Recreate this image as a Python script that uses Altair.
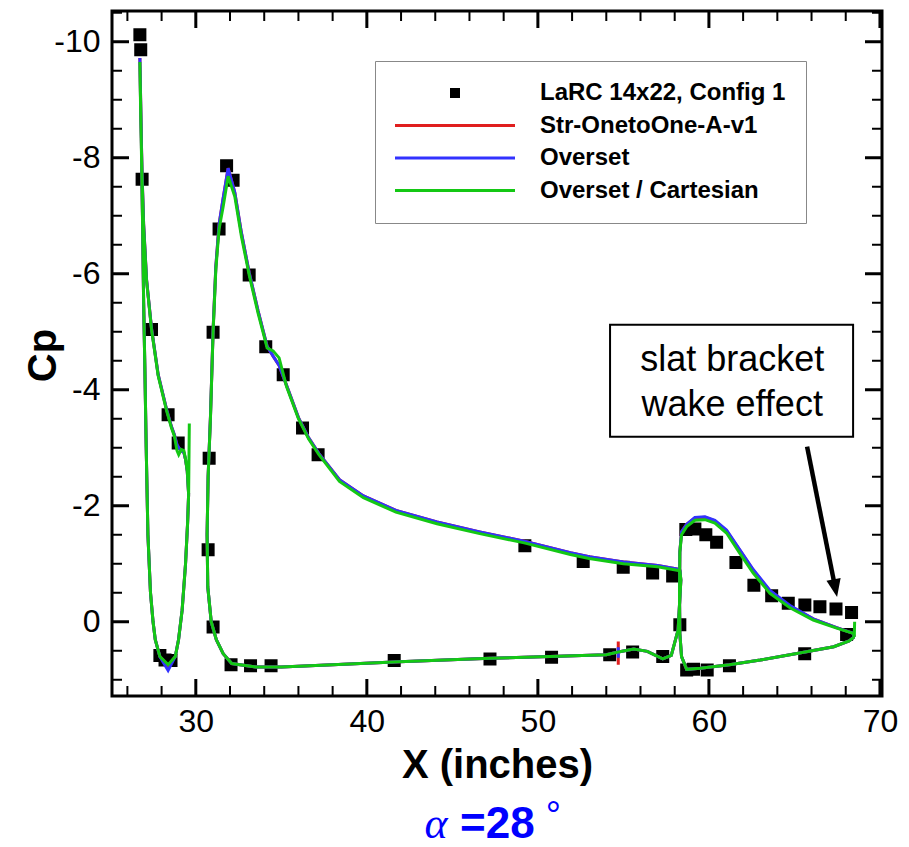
import altair as alt
import pandas as pd

# ---------------- series / legend ----------------
SERIES = ["LaRC 14x22, Config 1", "Str-OnetoOne-A-v1", "Overset", "Overset / Cartesian"]
COLORS = ["#000000", "#e01e1e", "#3232ff", "#14c814"]
LINE_SYMBOL = "M-12,0H12"
SQUARE_SYMBOL = "M-0.7,-0.7H0.7V0.7H-0.7Z"
SHAPES = [SQUARE_SYMBOL, LINE_SYMBOL, LINE_SYMBOL, LINE_SYMBOL]

# ---------------- experiment (LaRC 14x22) ----------------
EXP_X = [26.73, 26.78, 26.86, 27.41, 28.38, 28.97, 27.9, 28.2, 28.55,
         31.01, 31.36, 31.80, 32.18, 33.12, 34.09, 35.11, 36.24, 37.15, 49.24,
         52.65, 54.99, 56.71, 57.88, 30.78, 30.72, 31.01, 32.06, 33.2, 34.4,
         41.6, 47.2, 50.8, 54.2, 55.54, 57.3, 58.3,
         58.65, 59.18, 59.82, 60.45, 61.58, 62.63, 63.67, 64.64, 65.61, 66.49,
         67.43, 68.34, 68.05, 58.7, 59.1, 59.9, 61.2, 65.6]
EXP_Y = [-10.12, -9.86, -7.63, -5.04, -3.57, -3.08, 0.58, 0.66, 0.67,
         -4.99, -6.77, -7.86, -7.61, -5.98, -4.74, -4.26, -3.34, -2.88, -1.31,
         -1.04, -0.94, -0.84, -0.79, -2.82, -1.24, 0.09, 0.74, 0.76, 0.76,
         0.67, 0.64, 0.61, 0.57, 0.52, 0.60, 0.05,
         -1.59, -1.60, -1.50, -1.37, -1.02, -0.63, -0.45, -0.32, -0.29, -0.26,
         -0.22, -0.16, 0.22, 0.83, 0.82, 0.83, 0.76, 0.55]

# ---------------- CFD curves ----------------
SLAT_X = [29.62, 29.58, 29.5, 29.4, 29.3, 29.15, 29.0, 28.9, 28.75, 28.58, 28.29, 27.8,
          27.41, 27.12, 26.95, 26.86, 26.78, 26.73, 26.8, 26.88, 26.95, 27.02, 27.1,
          27.2, 27.35, 27.5, 27.63, 27.9, 28.38, 28.8, 28.99, 29.2, 29.4, 29.52, 29.58]
SLAT_Y_CART = [-3.42, -2.2, -2.6, -2.8, -2.95, -2.97, -2.88, -2.95, -3.2, -3.34, -3.64, -4.24,
               -5.04, -5.88, -6.8, -7.63, -8.7, -9.65, -8.5, -7.0, -5.5, -4.4, -3.0,
               -1.5, -0.5, 0.0, 0.31, 0.6, 0.74, 0.6, 0.31, -0.2, -1.0, -1.7, -2.2]
SLAT_Y_STR = [-2.2, -2.2, -2.6, -2.8, -2.92, -2.95, -3.0, -3.05, -3.22, -3.36, -3.66, -4.26,
              -5.06, -5.9, -6.85, -7.7, -8.8, -9.72, -8.6, -7.05, -5.5, -4.4, -3.0,
              -1.5, -0.5, 0.0, 0.31, 0.6, 0.76, 0.6, 0.31, -0.2, -1.0, -1.7, -2.2]
SLAT_Y_OVS = [-2.2, -2.2, -2.6, -2.8, -2.92, -2.95, -3.0, -3.05, -3.22, -3.36, -3.66, -4.26,
              -5.06, -5.9, -6.85, -7.7, -8.8, -9.72, -8.6, -7.05, -5.5, -4.4, -3.0,
              -1.5, -0.5, 0.0, 0.31, 0.6, 0.84, 0.6, 0.31, -0.2, -1.0, -1.7, -2.2]

MAIN_X = [58.3, 57.0, 55.0, 53.0, 51.9, 49.2, 46.6, 44.1, 41.7, 39.8, 38.4, 37.2, 36.6,
          36.0, 35.3, 34.87, 34.52, 34.17, 33.64, 33.12, 32.67, 32.28, 31.89, 31.6,
          31.36, 31.17, 31.01, 30.86, 30.72, 30.66, 30.7, 30.9, 31.2, 31.6, 32.1, 33.5,
          35.0, 38.0, 41.9, 47.2, 50.7, 54.0, 54.7, 54.7, 54.7, 54.7, 55.6, 56.4, 57.3,
          57.8, 58.2, 58.36, 58.3]
MAIN_Y_CART = [-0.88, -0.95, -1.0, -1.09, -1.16, -1.36, -1.52, -1.69, -1.89, -2.14, -2.42,
               -2.88, -3.15, -3.5, -4.06, -4.55, -4.67, -4.72, -5.32, -5.98, -6.64, -7.33,
               -7.68, -7.16, -6.77, -6.07, -4.99, -3.54, -2.5, -1.5, -0.6, 0.0, 0.31, 0.55,
               0.72, 0.78, 0.78, 0.74, 0.69, 0.63, 0.6, 0.57, 0.52, 0.52, 0.52, 0.52, 0.47,
               0.51, 0.64, 0.58, 0.14, -0.72, -0.88]
MAIN_Y_STR = [-0.9, -0.97, -1.03, -1.12, -1.19, -1.39, -1.55, -1.72, -1.92, -2.17, -2.45,
              -2.9, -3.17, -3.52, -4.08, -4.42, -4.58, -4.75, -5.36, -6.02, -6.7, -7.4,
              -7.82, -7.3, -6.85, -6.12, -5.02, -3.56, -2.5, -1.5, -0.6, 0.0, 0.31, 0.55,
              0.72, 0.78, 0.78, 0.74, 0.69, 0.63, 0.6, 0.57, 0.52, 0.34, 0.74, 0.52, 0.47,
              0.51, 0.64, 0.58, 0.14, -0.72, -0.9]
MAIN_Y_OVS = [-0.9, -0.97, -1.03, -1.12, -1.19, -1.39, -1.55, -1.72, -1.92, -2.17, -2.45,
              -2.9, -3.17, -3.52, -4.08, -4.42, -4.58, -4.75, -5.36, -6.02, -6.7, -7.4,
              -7.82, -7.3, -6.85, -6.12, -5.02, -3.56, -2.5, -1.5, -0.6, 0.0, 0.31, 0.55,
              0.72, 0.78, 0.78, 0.74, 0.69, 0.63, 0.6, 0.57, 0.52, 0.44, 0.62, 0.52, 0.47,
              0.51, 0.64, 0.58, 0.14, -0.72, -0.9]

FLAP_X = [68.52, 68.5, 68.44, 67.47, 66.1, 64.74, 63.57, 62.59, 61.81, 61.03, 60.35, 59.77,
          59.18, 58.7, 58.4, 58.3, 58.28, 58.3, 58.4, 58.7, 59.5, 61.2, 63.0, 65.3, 67.3,
          68.2, 68.5]
FLAP_Y_CART = [0.0, 0.26, 0.2, 0.11, -0.03, -0.24, -0.49, -0.84, -1.18, -1.53, -1.7, -1.76,
               -1.75, -1.64, -1.5, -1.2, -0.5, 0.2, 0.6, 0.82, 0.8, 0.74, 0.66, 0.54, 0.43,
               0.33, 0.26]
FLAP_Y_STR = [0.26, 0.26, 0.2, 0.1, -0.05, -0.27, -0.53, -0.89, -1.23, -1.57, -1.74, -1.8,
              -1.79, -1.68, -1.55, -1.2, -0.5, 0.2, 0.6, 0.82, 0.8, 0.74, 0.66, 0.54, 0.43,
              0.33, 0.26]
FLAP_Y_OVS = [0.26, 0.26, 0.2, 0.1, -0.05, -0.28, -0.54, -0.9, -1.24, -1.58, -1.75, -1.81,
              -1.8, -1.68, -1.55, -1.2, -0.5, 0.2, 0.6, 0.82, 0.8, 0.74, 0.66, 0.54, 0.43,
              0.33, 0.26]

# ---------------- axes ----------------
X_DOMAIN = [25.1, 70.12]
Y_DOMAIN = [-10.53, 1.28]
X_MAJOR = [30, 40, 50, 60, 70]
X_MINOR = [26, 28, 32, 34, 36, 38, 42, 44, 46, 48, 52, 54, 56, 58, 62, 64, 66, 68]
Y_MAJOR = [-10, -8, -6, -4, -2, 0]
Y_MINOR = [-10.5, -9.5, -9, -8.5, -7.5, -7, -6.5, -5.5, -5, -4.5, -3.5, -3, -2.5,
           -1.5, -1, -0.5, 0.5, 1.0]

# ---------------- annotations ----------------
NOTE_LINES = ["slat bracket", "wake effect"]
NOTE_X = [61.36, 61.36]
NOTE_Y = [-4.52, -3.74]
NOTE_BOX = {"x": [54.22], "x2": [68.43], "y": [-5.12], "y2": [-3.19]}
ARROW = {"x": [65.74], "x2": [67.39], "y": [-3.02], "y2": [-0.58]}
ARROW_HEAD = {"x": [67.39], "y": [-0.58]}
ALPHA_SYM = {"t": ["α"], "x": [44.05], "y": [3.72]}
ALPHA_VAL = {"t": ["=28"], "x": [45.45], "y": [3.72]}
ALPHA_DEG = {"t": ["°"], "x": [50.9], "y": [3.55]}

PLOT_W, PLOT_H = 770, 685
FONT = "Liberation Sans"

# ---------------- tables ----------------
exp_df = pd.DataFrame({"x": EXP_X, "y": EXP_Y, "series": SERIES[0]})

rows = []
curves = [
    (SERIES[1], "slat", SLAT_X, SLAT_Y_STR), (SERIES[1], "main", MAIN_X, MAIN_Y_STR),
    (SERIES[1], "flap", FLAP_X, FLAP_Y_STR),
    (SERIES[2], "slat", SLAT_X, SLAT_Y_OVS), (SERIES[2], "main", MAIN_X, MAIN_Y_OVS),
    (SERIES[2], "flap", FLAP_X, FLAP_Y_OVS),
    (SERIES[3], "slat", SLAT_X, SLAT_Y_CART), (SERIES[3], "main", MAIN_X, MAIN_Y_CART),
    (SERIES[3], "flap", FLAP_X, FLAP_Y_CART),
]
for s, el, xs_, ys_ in curves:
    for i, (a, b) in enumerate(zip(xs_, ys_)):
        rows.append({"series": s, "element": el, "idx": i, "x": a, "y": b})
curve_df = pd.DataFrame(rows)

px_per_x = PLOT_W / (X_DOMAIN[1] - X_DOMAIN[0])
px_per_y = PLOT_H / (Y_DOMAIN[1] - Y_DOMAIN[0])


def tick_table(xv, yv, length_px):
    dx, dy = length_px / px_per_x, length_px / px_per_y
    r = []
    for v in xv:
        r.append({"x": v, "x2": v, "y": Y_DOMAIN[1], "y2": Y_DOMAIN[1] - dy})
        r.append({"x": v, "x2": v, "y": Y_DOMAIN[0], "y2": Y_DOMAIN[0] + dy})
    for v in yv:
        r.append({"x": X_DOMAIN[0], "x2": X_DOMAIN[0] + dx, "y": v, "y2": v})
        r.append({"x": X_DOMAIN[1], "x2": X_DOMAIN[1] - dx, "y": v, "y2": v})
    return pd.DataFrame(r)


major_df = tick_table(X_MAJOR, Y_MAJOR, 17)
minor_df = tick_table(X_MINOR, Y_MINOR, 10)

# ---------------- scales / guides ----------------
xs = alt.Scale(domain=X_DOMAIN, nice=False, zero=False)
ys = alt.Scale(domain=Y_DOMAIN, nice=False, zero=False, reverse=True)
color_scale = alt.Scale(domain=SERIES, range=COLORS)
shape_scale = alt.Scale(domain=SERIES, range=SHAPES)

legend = alt.Legend(
    title=None, orient="none", legendX=263, legendY=50, padding=20, rowPadding=8.5,
    labelFont=FONT, labelFontWeight="bold", labelFontSize=24, labelColor="black",
    labelLimit=500, symbolSize=100, symbolStrokeWidth=3, symbolOffset=48, labelOffset=73,
    strokeColor="#888888", fillColor="white",
)

x_axis = alt.Axis(
    values=X_MAJOR, title="X (inches)", titleFont=FONT, titleFontSize=40,
    titleFontWeight="bold", titleColor="black", titleX=385, titleY=81,
    titleAlign="center", titleBaseline="alphabetic",
    labelFont=FONT, labelFontSize=32, labelColor="black", labelPadding=10,
    labelFlush=False, labelOverlap=False, ticks=False, tickSize=0, domain=False,
    grid=False, format="d",
)
y_axis = alt.Axis(
    values=Y_MAJOR, title="Cp", titleFont=FONT, titleFontSize=40, titleFontWeight="bold",
    titleColor="black", titleAngle=270, titleX=-57, titleY=344, titleAlign="center",
    titleBaseline="alphabetic",
    labelFont=FONT, labelFontSize=32, labelColor="black", labelPadding=12,
    labelOverlap=False, ticks=False, tickSize=0, domain=False, grid=False,
    labelExpr="datum.value < 0 ? '-' + format(-datum.value, 'd') : format(datum.value, 'd')",
)

XE = alt.X("x:Q", scale=xs, axis=x_axis)
YE = alt.Y("y:Q", scale=ys, axis=y_axis)

points = alt.Chart(exp_df).mark_point(filled=False, fill="black", size=247, opacity=1).encode(
    x=XE, y=YE,
    color=alt.Color("series:N", scale=color_scale, legend=legend),
    shape=alt.Shape("series:N", scale=shape_scale, legend=legend),
)


def line_layer(name):
    return alt.Chart(curve_df).transform_filter(alt.datum.series == name).mark_line(
        strokeWidth=3
    ).encode(
        x=XE, y=YE,
        color=alt.Color("series:N", scale=color_scale, legend=None),
        detail="element:N", order="idx:Q",
    )


def tick_layer(df, w):
    return alt.Chart(df).mark_rule(color="black", strokeWidth=w).encode(
        x=XE, x2="x2:Q", y=YE, y2="y2:Q")


box = alt.Chart(pd.DataFrame(NOTE_BOX)).mark_rect(
    fill="white", stroke="black", strokeWidth=2).encode(x=XE, x2="x2:Q", y=YE, y2="y2:Q")
note = alt.Chart(pd.DataFrame({"t": NOTE_LINES, "x": NOTE_X, "y": NOTE_Y})).mark_text(
    font=FONT, fontSize=36, color="black", align="center", baseline="middle"
).encode(x=XE, y=YE, text="t:N")
arrow = alt.Chart(pd.DataFrame(ARROW)).mark_rule(color="black", strokeWidth=4.5).encode(
    x=XE, x2="x2:Q", y=YE, y2="y2:Q")
head = alt.Chart(pd.DataFrame(ARROW_HEAD)).mark_point(
    shape="M-0.8,-1L0.8,-1L0,1Z", filled=True, color="black", opacity=1, size=324, angle=348.7
).encode(x=XE, y=YE)

alpha_sym = alt.Chart(pd.DataFrame(ALPHA_SYM)).mark_text(
    font="Liberation Serif", fontStyle="italic", fontSize=44, color="#0000ff",
    align="center", baseline="alphabetic").encode(x=XE, y=YE, text="t:N")
alpha_val = alt.Chart(pd.DataFrame(ALPHA_VAL)).mark_text(
    font=FONT, fontWeight="bold", fontSize=44, color="#0000ff",
    align="left", baseline="alphabetic").encode(x=XE, y=YE, text="t:N")
alpha_deg = alt.Chart(pd.DataFrame(ALPHA_DEG)).mark_text(
    font=FONT, fontSize=38, color="#0000ff",
    align="center", baseline="alphabetic").encode(x=XE, y=YE, text="t:N")

chart = alt.layer(
    points,
    line_layer(SERIES[1]), line_layer(SERIES[2]), line_layer(SERIES[3]),
    tick_layer(major_df, 3), tick_layer(minor_df, 2),
    box, note, arrow, head, alpha_sym, alpha_val, alpha_deg,
).properties(
    width=PLOT_W, height=PLOT_H,
    padding={"left": 112, "top": 11, "right": 27, "bottom": 151},
    autosize=alt.AutoSizeParams(type="none"),
    background="white",
).configure_view(stroke="black", strokeWidth=3)

chart.save("out.html", embed_options={"renderer": "svg", "actions": False})
